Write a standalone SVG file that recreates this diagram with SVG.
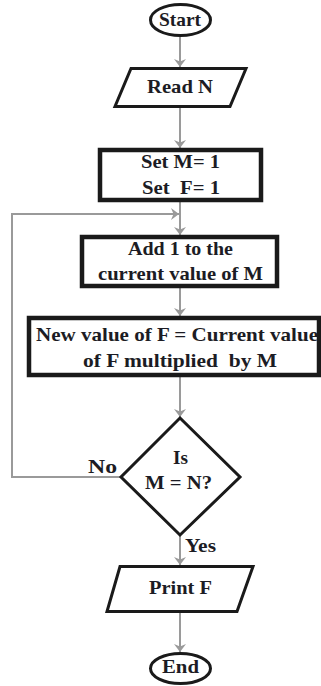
<svg xmlns="http://www.w3.org/2000/svg" width="321" height="686" viewBox="0 0 321 686">
<defs>
<marker id="arr" markerUnits="userSpaceOnUse" markerWidth="10" markerHeight="13" refX="8" refY="6" orient="auto">
<path d="M0,0 L8,6 L0,12 L2.5,6 z" fill="#9a9a9a"/>
</marker>
<style>
.t{font-family:"Liberation Serif","Times New Roman",serif;font-weight:bold;font-size:19px;fill:#1c1c24;text-anchor:middle;white-space:pre}
.s{fill:#fff;stroke:#1a1a1a;stroke-width:3}
.b{fill:#fff;stroke:#1a1a1a;stroke-width:4.5}
.c{fill:none;stroke:#9a9a9a;stroke-width:2}
</style>
</defs>
<rect width="321" height="686" fill="#fff"/>
<g id="connectors">
<line class="c" x1="180" y1="37" x2="180" y2="67" marker-end="url(#arr)"/>
<line class="c" x1="180" y1="108" x2="180" y2="148" marker-end="url(#arr)"/>
<line class="c" x1="180" y1="202" x2="180" y2="235" marker-end="url(#arr)"/>
<line class="c" x1="180" y1="288" x2="180" y2="316" marker-end="url(#arr)"/>
<line class="c" x1="180" y1="377" x2="180" y2="417" marker-end="url(#arr)"/>
<line class="c" x1="180" y1="535" x2="180" y2="565" marker-end="url(#arr)"/>
<line class="c" x1="180" y1="613" x2="180" y2="652" marker-end="url(#arr)"/>
<polyline class="c" points="121,477 12,477 12,214 179,214" marker-end="url(#arr)"/>
</g>
<g id="start">
<ellipse class="s" cx="180.5" cy="20" rx="30" ry="15.5"/>
<text class="t" x="180" y="26" textLength="42" lengthAdjust="spacingAndGlyphs">Start</text>
</g>
<g id="readN">
<polygon class="s" points="131,68.5 246,68.5 230,106.5 115,106.5"/>
<text class="t" x="180" y="93" textLength="66" lengthAdjust="spacingAndGlyphs">Read N</text>
</g>
<g id="setMF">
<rect class="b" x="100" y="150" width="161" height="50"/>
<text class="t" x="180.5" y="168" textLength="79" lengthAdjust="spacingAndGlyphs">Set M= 1</text>
<text class="t" x="181" y="194" xml:space="preserve" textLength="78" lengthAdjust="spacingAndGlyphs">Set  F= 1</text>
</g>
<g id="addM">
<rect class="b" x="82" y="237" width="195" height="49"/>
<text class="t" x="180.5" y="255" textLength="105" lengthAdjust="spacingAndGlyphs">Add 1 to the</text>
<text class="t" x="180.5" y="280" textLength="165" lengthAdjust="spacingAndGlyphs">current value of M</text>
</g>
<g id="newF">
<rect class="b" x="29" y="318" width="290" height="57"/>
<text class="t" x="177" y="341" textLength="282" lengthAdjust="spacingAndGlyphs">New value of F = Current value</text>
<text class="t" x="180" y="367" xml:space="preserve" textLength="194" lengthAdjust="spacingAndGlyphs">of F multiplied  by M</text>
</g>
<g id="decision">
<polygon class="s" points="180,418 240,477 180,535 121,477"/>
<text class="t" x="180.5" y="464" textLength="15" lengthAdjust="spacingAndGlyphs">Is</text>
<text class="t" x="178.5" y="489" textLength="67" lengthAdjust="spacingAndGlyphs">M = N?</text>
<text class="t" x="102.5" y="473" textLength="29" lengthAdjust="spacingAndGlyphs">No</text>
<text class="t" x="200.5" y="552" textLength="31" lengthAdjust="spacingAndGlyphs">Yes</text>
</g>
<g id="printF">
<polygon class="s" points="120,566.5 253,566.5 237,611.5 107,611.5"/>
<text class="t" x="180.5" y="594" textLength="63" lengthAdjust="spacingAndGlyphs">Print F</text>
</g>
<g id="end">
<ellipse class="s" cx="180.5" cy="668.5" rx="30" ry="15"/>
<text class="t" x="180.5" y="673" textLength="37" lengthAdjust="spacingAndGlyphs">End</text>
</g>
</svg>
